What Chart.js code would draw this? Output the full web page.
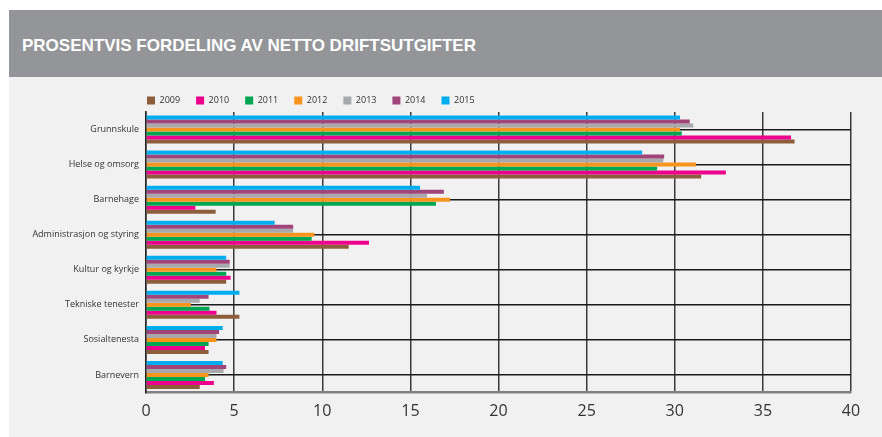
<!DOCTYPE html>
<html>
<head>
<meta charset="utf-8">
<title>Prosentvis fordeling av netto driftsutgifter</title>
<script src="https://cdn.jsdelivr.net/npm/chart.js@4.4.1/dist/chart.umd.min.js"></script>
<style>
    html, body { margin: 0; padding: 0; background: #fff; }
    body { width: 882px; height: 437px; position: relative; overflow: hidden; }
    .header { position: absolute; left: 9px; top: 10px; width: 873px; height: 67px; background: #939598; }
    .header h1 { position: absolute; left: 13px; top: 26.5px; margin: 0; color: #fff; white-space: nowrap;
                 font: bold 17px/17px 'Liberation Sans', Arial, sans-serif; }
    .panel { position: absolute; left: 9px; top: 77px; width: 873px; height: 360px; background: #f1f1f1; }
</style>
</head>
<body>
<div class="header"><h1>PROSENTVIS FORDELING AV NETTO DRIFTSUTGIFTER</h1></div>
<div class="panel"><canvas id="driftChart"></canvas></div>

<script>
// Categories (top to bottom) and share of net operating costs (%) per year
const categories = ['Grunnskule', 'Helse og omsorg', 'Barnehage', 'Administrasjon og styring',
    'Kultur og kyrkje', 'Tekniske tenester', 'Sosialtenesta', 'Barnevern'];
const years = ['2009', '2010', '2011', '2012', '2013', '2014', '2015'];

const values2009 = [36.8, 31.5, 3.95, 11.5, 4.55, 5.3, 3.55, 3.05];
const values2010 = [36.6, 32.9, 2.8, 12.65, 4.8, 4.0, 3.35, 3.85];
const values2011 = [30.4, 29.0, 16.45, 9.4, 4.55, 3.6, 3.55, 3.35];
const values2012 = [30.3, 31.2, 17.25, 9.55, 4.0, 2.55, 4.0, 3.55];
const values2013 = [31.05, 29.35, 15.95, 8.35, 4.75, 3.05, 4.0, 4.4];
const values2014 = [30.85, 29.4, 16.9, 8.35, 4.75, 3.55, 4.15, 4.55];
const values2015 = [30.3, 28.15, 15.55, 7.3, 4.55, 5.3, 4.35, 4.35];

const xTicks = [0, 5, 10, 15, 20, 25, 30, 35, 40];

const yearValues = [values2009, values2010, values2011, values2012, values2013, values2014, values2015];
const yearColors = ['#8c5e3c', '#ec008c', '#00a651', '#f7941d', '#a7a9ac', '#a0457a', '#00aeef'];

// 2015 sits on top in each group, so build datasets newest first and reverse the legend
const datasets = years.map((year, i) => ({
    label: year,
    data: yearValues[i],
    backgroundColor: yearColors[i],
    borderWidth: 0,
    categoryPercentage: 0.8,
    barPercentage: 1.0
})).reverse();

// Move the legend so it lines up with the zero line like the original
const legendShift = {
    id: 'legendShift',
    afterLayout(chart) {
        const lg = chart.legend;
        if (!lg) return;
        lg.left -= 15;
        lg.right -= 15;
        lg.top += 3;
        lg.bottom += 3;
    }
};

const ctx = document.getElementById('driftChart').getContext('2d');
const chart = new Chart(ctx, {
    type: 'bar',
    data: { labels: categories, datasets: datasets },
    plugins: [legendShift],
    options: {
        indexAxis: 'y',
        responsive: true,
        maintainAspectRatio: false,
        animation: false,
        layout: { padding: { top: 0, right: 31, bottom: 0, left: 0 } },
        plugins: {
            legend: {
                position: 'top',
                align: 'start',
                fullSize: false,
                reverse: true,
                labels: {
                    boxWidth: 8,
                    boxHeight: 8,
                    padding: 16,
                    color: '#333',
                    font: { family: "'Open Sans', sans-serif", size: 9 }
                }
            },
            tooltip: { enabled: false }
        },
        scales: {
            x: {
                min: 0,
                max: 40,
                afterBuildTicks: scale => { scale.ticks = xTicks.map(v => ({ value: v })); },
                afterFit: scale => { scale.height = 44.5; },
                ticks: {
                    color: '#333',
                    padding: 9,
                    font: { family: "'Open Sans', sans-serif", size: 16 }
                },
                grid: { color: '#3a3a3a', lineWidth: 1.5, drawTicks: false },
                border: { color: '#808080', width: 2.5 }
            },
            y: {
                afterFit: scale => { scale.width = 137; },
                ticks: {
                    color: '#333',
                    padding: 7,
                    font: { family: "'Open Sans', sans-serif", size: 9 }
                },
                grid: { color: '#1a1a1a', lineWidth: 1.5, offset: false, drawTicks: false },
                border: { color: '#222', width: 1.5 }
            }
        }
    }
});
</script>
</body>
</html>
